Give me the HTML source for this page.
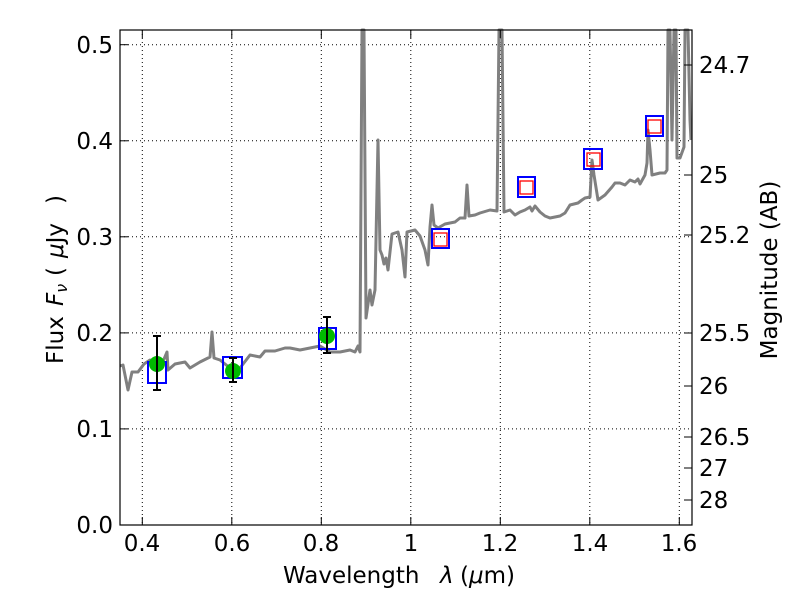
<!DOCTYPE html>
<html><head><meta charset="utf-8"><style>body{margin:0;background:#fff}svg{display:block}text{font-family:"DejaVu Sans","Liberation Sans",sans-serif;fill:#000}</style></head><body>
<svg width="800" height="600" viewBox="0 0 800 600">
<g stroke="#000" stroke-width="1" stroke-dasharray="1,3">
<line x1="142.3" y1="30" x2="142.3" y2="525"/><line x1="231.8" y1="30" x2="231.8" y2="525"/><line x1="321.3" y1="30" x2="321.3" y2="525"/><line x1="410.8" y1="30" x2="410.8" y2="525"/><line x1="500.3" y1="30" x2="500.3" y2="525"/><line x1="589.8" y1="30" x2="589.8" y2="525"/><line x1="679.3" y1="30" x2="679.3" y2="525"/>
<line x1="120" y1="44.7" x2="692" y2="44.7"/><line x1="120" y1="140.8" x2="692" y2="140.8"/><line x1="120" y1="236.8" x2="692" y2="236.8"/><line x1="120" y1="332.9" x2="692" y2="332.9"/><line x1="120" y1="428.9" x2="692" y2="428.9"/>
</g>
<polyline fill="none" stroke="#808080" stroke-width="3" stroke-linejoin="round" points="120,366 123,365 128,390 132,372 138,372 144,364 150,360 157,368 162,364 167,352 168,370 175,364 185,362 190,368 200,362 210,357 212,332 214,358 220,360 230,368 240,368 250,355 260,357 265,351 275,351 285,348 290,348 300,350 320,346 330,352 340,352 350,350 355,352 358,346 360,352 362,30 364,30 366,318 370,290 372,305 375,290 378,140 380,250 382,255 384,264 386,258 388,270 392,234 398,232 402,250 405,277 407,232 415,230 420,236 425,250 428,265 430,227 432,205 434,225 438,228 445,224 455,222 460,218 465,218 467,185 469,216 475,215 480,213 490,210 497,211 499,30 502,30 504,212 510,210 515,215 520,212 525,210 530,207 532,211 535,206 540,212 545,216 550,218 560,216 565,213 570,205 578,203 582,200 585,198 590,197 592,160 594,175 598,200 605,195 612,187 615,183 620,183 625,185 630,180 635,182 638,179 640,184 645,175 647,163 648,130 650,150 652,175 660,173 665,173 667,170 668,30 670,30 672,140 674,30 676,30 677,158 680,158 684,147 685,30 688,30 690,120 691,140"/>
<g fill="none" stroke="#0000ff" stroke-width="2">
<rect x="148" y="362" width="18" height="21"/><rect x="223" y="357" width="19" height="21"/><rect x="319" y="328" width="17" height="21"/>
<rect x="432" y="229" width="17" height="19"/><rect x="518" y="177" width="17" height="20"/><rect x="584" y="149" width="18" height="20"/><rect x="646" y="116" width="17" height="20"/>
</g>
<g fill="none" stroke="#ff0000" stroke-width="1.3">
<rect x="434" y="233" width="13" height="13"/><rect x="520" y="181" width="13" height="13"/><rect x="587" y="153" width="13" height="13"/><rect x="648" y="120" width="13" height="13"/>
</g>
<g fill="#00bb00"><circle cx="157" cy="364" r="8"/><circle cx="233" cy="371" r="8"/><circle cx="327" cy="336" r="8"/></g>
<g stroke="#000" stroke-width="2"><line x1="157" y1="336" x2="157" y2="390"/><line x1="153" y1="336" x2="161" y2="336"/><line x1="153" y1="390" x2="161" y2="390"/>
<line x1="233" y1="358" x2="233" y2="382"/><line x1="229" y1="358" x2="237" y2="358"/><line x1="229" y1="382" x2="237" y2="382"/>
<line x1="327" y1="317" x2="327" y2="353"/><line x1="323" y1="317" x2="331" y2="317"/><line x1="323" y1="353" x2="331" y2="353"/></g>
<g stroke="#000" stroke-width="1">
<line x1="142.3" y1="525" x2="142.3" y2="517"/><line x1="231.8" y1="525" x2="231.8" y2="517"/><line x1="321.3" y1="525" x2="321.3" y2="517"/><line x1="410.8" y1="525" x2="410.8" y2="517"/><line x1="500.3" y1="525" x2="500.3" y2="517"/><line x1="589.8" y1="525" x2="589.8" y2="517"/><line x1="679.3" y1="525" x2="679.3" y2="517"/>
<line x1="142.3" y1="30" x2="142.3" y2="38"/><line x1="231.8" y1="30" x2="231.8" y2="38"/><line x1="321.3" y1="30" x2="321.3" y2="38"/><line x1="410.8" y1="30" x2="410.8" y2="38"/><line x1="500.3" y1="30" x2="500.3" y2="38"/><line x1="589.8" y1="30" x2="589.8" y2="38"/>
<line x1="120" y1="44.7" x2="128" y2="44.7"/><line x1="120" y1="140.8" x2="128" y2="140.8"/><line x1="120" y1="236.8" x2="128" y2="236.8"/><line x1="120" y1="332.9" x2="128" y2="332.9"/><line x1="120" y1="428.9" x2="128" y2="428.9"/>
<line x1="692" y1="65" x2="684" y2="65"/><line x1="692" y1="175" x2="684" y2="175"/><line x1="692" y1="235" x2="684" y2="235"/><line x1="692" y1="333" x2="684" y2="333"/><line x1="692" y1="386" x2="684" y2="386"/><line x1="692" y1="437" x2="684" y2="437"/><line x1="692" y1="468" x2="684" y2="468"/><line x1="692" y1="500" x2="684" y2="500"/>
</g>
<rect x="120" y="30" width="572" height="495" fill="none" stroke="#000" stroke-width="1.2"/>
<g font-size="23" text-anchor="middle">
<text x="142" y="551">0.4</text><text x="232" y="551">0.6</text><text x="321" y="551">0.8</text><text x="411" y="551">1</text><text x="500" y="551">1.2</text><text x="590" y="551">1.4</text><text x="679" y="551">1.6</text>
</g>
<g font-size="23" text-anchor="end">
<text x="113" y="533">0.0</text><text x="113" y="437">0.1</text><text x="113" y="341">0.2</text><text x="113" y="245">0.3</text><text x="113" y="149">0.4</text><text x="113" y="53">0.5</text>
</g>
<g font-size="23">
<text x="699" y="73">24.7</text><text x="699" y="183">25</text><text x="699" y="243">25.2</text><text x="699" y="341">25.5</text><text x="699" y="394">26</text><text x="699" y="445">26.5</text><text x="699" y="476">27</text><text x="699" y="508">28</text>
</g>
<g font-size="23">
<text x="283" y="583">Wavelength</text>
<text x="440" y="583" font-style="italic">λ</text>
<text x="460" y="583">(<tspan font-style="italic">μ</tspan>m)</text>
</g>
<g transform="translate(63,0) rotate(-90)" font-size="23">
<text x="-364" y="0">Flux</text>
<text x="-306" y="0" font-style="italic">F<tspan font-size="16" dy="4">ν</tspan></text>
<text x="-276" y="0">(</text>
<text x="-258" y="0"><tspan font-style="italic">μ</tspan>Jy</text>
<text x="-204" y="0">)</text>
</g>
<text transform="translate(777,270) rotate(-90)" font-size="23" text-anchor="middle">Magnitude (AB)</text>
</svg>
</body></html>
